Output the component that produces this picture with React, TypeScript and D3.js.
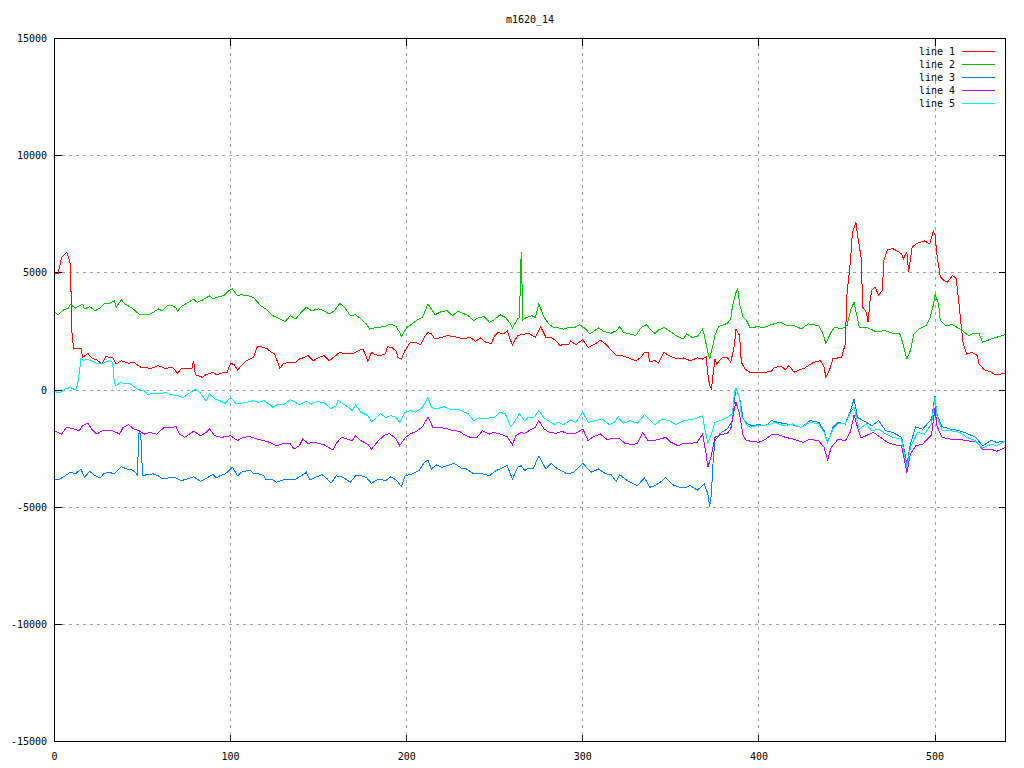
import React from 'react';
import * as d3 from 'd3';

const TITLE = 'm1620_14';
const xTicks = [0, 100, 200, 300, 400, 500];
const yTicks = [-15000, -10000, -5000, 0, 5000, 10000, 15000];
const xDomain: [number, number] = [0, 540];
const yDomain: [number, number] = [-15000, 15000];
const seriesNames = ['line 1', 'line 2', 'line 3', 'line 4', 'line 5'];
const seriesColors = ['#ff0000', '#00c000', '#0080ff', '#c000ff', '#00eeee'];

const line1: [number, number][] = [
  [0, 4990], [1, 4990], [2, 4950], [4, 5660], [7, 5870], [8, 5660], [9, 5380], [10, 2250], [11, 1780], [15, 1790],
  [16, 1390], [19, 1560], [21, 1370], [24, 1280], [27, 1110], [29, 1420], [33, 1390], [35, 1110], [38, 1250], [42, 1140],
  [45, 1180], [49, 970], [52, 970], [54, 900], [59, 1040], [63, 920], [67, 970], [70, 710], [72, 920], [78, 920],
  [79, 1250], [80, 650], [84, 540], [86, 650], [90, 750], [92, 650], [96, 750], [98, 750], [100, 1140], [102, 1080],
  [104, 850], [106, 1040], [109, 1250], [113, 1390], [115, 1820], [116, 1880], [121, 1750], [123, 1610], [125, 1540], [128, 920],
  [130, 1140], [134, 1180], [137, 1180], [139, 1320], [141, 1370], [144, 1470], [147, 1250], [150, 1390], [153, 1470], [156, 1250],
  [158, 1370], [162, 1610], [165, 1540], [169, 1540], [172, 1650], [175, 1750], [176, 1610], [178, 1220], [180, 1610], [182, 1510],
  [185, 1470], [188, 1540], [189, 1850], [192, 1790], [194, 1650], [195, 1390], [197, 1320], [199, 1680], [202, 2030], [205, 2030],
  [208, 1930], [210, 2250], [212, 2460], [214, 2390], [216, 2180], [220, 2250], [223, 2320], [227, 2280], [230, 2220], [232, 2180],
  [236, 2250], [239, 2080], [242, 2220], [245, 2030], [248, 1990], [250, 2320], [252, 2460], [255, 2390], [257, 2530], [259, 2110],
  [260, 1920], [263, 2320], [267, 2390], [270, 2390], [273, 2250], [276, 2700], [279, 2250], [282, 2250], [285, 2080], [287, 1890],
  [289, 1960], [292, 1930], [293, 2110], [296, 1930], [300, 2150], [303, 1820], [307, 1960], [310, 2130], [313, 1960], [316, 1710],
  [319, 1470], [322, 1470], [326, 1370], [330, 1250], [333, 1390], [335, 1610], [337, 1610], [338, 1220], [341, 1250], [343, 1140],
  [346, 1610], [350, 1420], [354, 1320], [357, 1370], [361, 1250], [365, 1370], [368, 1320], [370, 1420], [371, 680], [372, 190],
  [373, 40], [374, 680], [375, 1320], [376, 1110], [379, 1370], [382, 1390], [384, 1180], [386, 1890], [387, 2600], [389, 2320],
  [390, 1180], [392, 900], [395, 750], [399, 750], [403, 750], [407, 800], [409, 970], [413, 1000], [415, 860], [417, 1040],
  [420, 760], [423, 860], [426, 940], [428, 1040], [431, 1180], [435, 1250], [437, 970], [438, 540], [440, 830], [442, 1330],
  [445, 1370], [447, 1400], [449, 1970], [450, 4100], [452, 5530], [453, 6670], [455, 7170], [456, 6600], [458, 5670], [459, 3530],
  [461, 3320], [462, 2890], [463, 3750], [464, 4250], [466, 4390], [468, 4030], [470, 4250], [471, 5530], [473, 5990], [476, 6030],
  [478, 5960], [481, 5810], [482, 5600], [484, 5890], [485, 5030], [487, 6100], [490, 6270], [494, 6360], [497, 6240], [499, 6780],
  [500, 6600], [501, 5810], [503, 4820], [505, 4670], [507, 4600], [510, 4890], [512, 4750], [514, 3390], [515, 2610], [516, 1970],
  [518, 1540], [521, 1610], [524, 1470], [525, 1110], [528, 860], [532, 760], [534, 660], [537, 680], [540, 710],
];

const line2: [number, number][] = [
  [0, 3360], [2, 3210], [5, 3410], [8, 3500], [9, 3640], [12, 3500], [16, 3670], [17, 3460], [20, 3560], [23, 3380],
  [26, 3500], [28, 3670], [31, 3700], [34, 3810], [35, 3530], [38, 3850], [40, 3670], [44, 3500], [48, 3240], [52, 3240],
  [53, 3200], [56, 3310], [59, 3460], [61, 3380], [64, 3600], [67, 3600], [69, 3500], [70, 3360], [72, 3560], [75, 3700],
  [79, 3880], [81, 3740], [84, 3840], [88, 4020], [90, 3880], [93, 3980], [96, 4020], [99, 4240], [101, 4310], [104, 4020],
  [106, 4070], [110, 4020], [113, 3950], [117, 3600], [120, 3460], [124, 3170], [126, 3100], [129, 2990], [131, 2930], [134, 3170],
  [137, 3030], [140, 3310], [143, 3530], [146, 3380], [150, 3460], [153, 3380], [156, 3240], [159, 3380], [162, 3700], [165, 3500],
  [168, 3170], [171, 3210], [174, 3030], [177, 2820], [179, 2600], [183, 2670], [187, 2700], [191, 2820], [194, 2700], [196, 2460],
  [197, 2280], [200, 2670], [203, 2820], [206, 2990], [209, 3100], [212, 3670], [214, 3460], [216, 3210], [220, 3360], [223, 3380],
  [226, 3170], [229, 3360], [232, 3270], [235, 3170], [238, 2960], [241, 3100], [244, 3130], [247, 2890], [249, 2960], [253, 3210],
  [256, 3100], [259, 2820], [260, 2650], [263, 3030], [264, 3100], [265, 5900], [266, 2990], [268, 3100], [271, 3170], [273, 3100],
  [275, 3670], [278, 3100], [281, 2790], [284, 2650], [286, 2650], [289, 2600], [292, 2670], [295, 2650], [298, 2790], [301, 2650],
  [304, 2390], [309, 2650], [312, 2500], [316, 2420], [319, 2530], [321, 2700], [323, 2460], [327, 2390], [330, 2320], [333, 2650],
  [336, 2790], [339, 2530], [341, 2420], [343, 2560], [346, 2670], [349, 2530], [353, 2320], [357, 2180], [359, 2390], [362, 2250],
  [365, 2280], [368, 2600], [369, 2320], [371, 1610], [372, 1320], [374, 1960], [375, 2320], [377, 2700], [380, 2790], [382, 2840],
  [384, 3030], [385, 3600], [387, 4170], [388, 4310], [389, 3670], [391, 3100], [393, 2960], [395, 2650], [399, 2700], [403, 2670],
  [407, 2790], [412, 2890], [416, 2750], [420, 2750], [424, 2610], [428, 2820], [434, 2750], [436, 2470], [438, 2000], [441, 2470],
  [443, 2680], [447, 2610], [450, 2750], [452, 3390], [454, 3750], [455, 3390], [457, 2680], [461, 2680], [463, 2610], [467, 2470],
  [471, 2540], [476, 2420], [480, 2390], [481, 2180], [483, 1610], [484, 1330], [486, 1680], [488, 2390], [491, 2610], [495, 2750],
  [497, 3040], [499, 3610], [500, 4080], [502, 3680], [503, 2960], [506, 2750], [510, 2790], [513, 2650], [516, 2510], [519, 2320],
  [522, 2420], [525, 2420], [527, 2040], [532, 2180], [535, 2250], [540, 2370],
];

const line3: [number, number][] = [
  [0, -3840], [3, -3800], [6, -3660], [9, -3510], [12, -3580], [15, -3370], [17, -3730], [20, -3470], [23, -3660], [26, -3750],
  [28, -3560], [31, -3510], [34, -3580], [36, -3410], [38, -3270], [41, -3370], [44, -3410], [46, -3510], [47, -3660], [48, -1810],
  [49, -1900], [50, -3650], [53, -3610], [56, -3580], [59, -3660], [61, -3800], [65, -3750], [69, -3750], [72, -3870], [75, -3800],
  [79, -3700], [83, -3900], [87, -3730], [90, -3610], [92, -3750], [94, -3660], [97, -3580], [100, -3370], [101, -3300], [104, -3660],
  [106, -3510], [111, -3410], [113, -3560], [116, -3580], [119, -3660], [120, -3840], [124, -3840], [126, -3940], [130, -3840], [134, -3800],
  [137, -3800], [140, -3660], [142, -3580], [143, -3510], [145, -3840], [148, -3730], [152, -3610], [155, -3800], [157, -3980], [160, -3660],
  [164, -3730], [168, -3940], [171, -3660], [174, -3660], [177, -3730], [180, -3980], [184, -3800], [188, -3870], [191, -3700], [194, -3840],
  [197, -4120], [199, -3660], [203, -3580], [207, -3440], [210, -3090], [212, -2990], [214, -3370], [217, -3190], [220, -3300], [223, -3230],
  [227, -3130], [231, -3330], [234, -3370], [238, -3580], [242, -3560], [247, -3660], [250, -3470], [254, -3330], [257, -3230], [260, -3800],
  [263, -3300], [265, -3230], [267, -3440], [269, -3330], [272, -3330], [275, -2820], [279, -3370], [282, -3130], [285, -3330], [287, -3410],
  [291, -3580], [295, -3510], [300, -3130], [303, -3370], [305, -3510], [309, -3370], [313, -3580], [316, -3610], [319, -3900], [321, -3610],
  [324, -3800], [327, -3940], [331, -4080], [335, -3750], [338, -4150], [341, -4080], [344, -3940], [347, -3730], [351, -4040], [355, -4150],
  [358, -4180], [361, -4080], [365, -4270], [368, -4080], [369, -4010], [371, -4440], [372, -4980], [373, -4440], [374, -3020], [375, -2160],
  [378, -1850], [382, -1660], [385, -1310], [386, -460], [387, 40], [389, -310], [391, -1240], [393, -1420], [396, -1520], [400, -1480],
  [404, -1520], [407, -1310], [409, -1340], [414, -1430], [419, -1480], [424, -1600], [429, -1310], [434, -1380], [437, -1740], [439, -2240],
  [442, -1600], [445, -1380], [449, -1450], [452, -880], [454, -390], [456, -1170], [461, -1380], [464, -1530], [468, -1310], [472, -1740],
  [476, -1810], [481, -2020], [482, -2380], [484, -3160], [486, -2310], [489, -1570], [493, -1670], [498, -1240], [500, -240], [501, -1030],
  [504, -1570], [509, -1670], [514, -1740], [518, -1850], [523, -2020], [527, -2380], [532, -2140], [535, -2240], [540, -2170],
];

const line4: [number, number][] = [
  [0, -1740], [4, -1880], [7, -1590], [11, -1660], [14, -1740], [16, -1520], [19, -1420], [21, -1660], [24, -1880], [27, -1740],
  [30, -1710], [33, -1740], [37, -1880], [39, -1590], [42, -1480], [45, -1660], [48, -1740], [51, -1880], [54, -1810], [58, -1880],
  [62, -1620], [66, -1620], [69, -1560], [71, -1880], [74, -2020], [79, -1760], [83, -1950], [86, -1810], [88, -1660], [91, -1950],
  [95, -2020], [100, -1950], [104, -2160], [107, -2020], [111, -1990], [115, -2090], [119, -2160], [122, -2230], [126, -2380], [130, -2280],
  [134, -2300], [136, -2520], [139, -2380], [141, -2090], [144, -2280], [147, -2230], [150, -2280], [153, -2330], [156, -2470], [158, -2560],
  [160, -2280], [163, -2020], [166, -2090], [169, -2160], [171, -1950], [174, -2160], [178, -2330], [180, -2520], [184, -2160], [187, -1950],
  [190, -1850], [193, -2020], [194, -2090], [196, -2380], [199, -2050], [202, -1880], [206, -1740], [209, -1560], [212, -1170], [213, -1280],
  [215, -1620], [219, -1590], [223, -1660], [227, -1740], [230, -1760], [232, -1880], [236, -2020], [240, -2020], [243, -1740], [247, -1880],
  [249, -1810], [253, -1880], [257, -1990], [260, -2330], [262, -1950], [265, -1810], [267, -1850], [270, -1710], [273, -1590], [275, -1310],
  [278, -1660], [281, -1810], [285, -1850], [288, -1760], [292, -1880], [296, -1850], [300, -1660], [303, -2160], [306, -1990], [310, -1880],
  [314, -2130], [317, -2050], [321, -2090], [324, -2280], [328, -2330], [331, -2280], [334, -1810], [337, -2160], [340, -2160], [344, -2090],
  [347, -2020], [350, -2230], [354, -2380], [357, -2280], [361, -2280], [365, -2230], [368, -1880], [370, -2730], [371, -3300], [373, -2800],
  [375, -2020], [378, -1910], [382, -1850], [384, -1660], [386, -810], [387, -530], [389, -1020], [391, -1950], [393, -2160], [396, -2190],
  [400, -2230], [404, -2090], [407, -1910], [410, -1880], [415, -2020], [420, -2100], [425, -2240], [429, -2100], [434, -2170], [437, -2450],
  [439, -2990], [441, -2450], [445, -2100], [449, -2170], [452, -1770], [454, -1060], [456, -1600], [458, -2050], [462, -1910], [465, -1810],
  [469, -2020], [473, -2240], [477, -2340], [481, -2380], [482, -2740], [484, -3520], [486, -2740], [489, -2380], [493, -2310], [498, -1910],
  [500, -740], [501, -1530], [504, -2020], [509, -2100], [514, -2100], [518, -2170], [523, -2200], [527, -2520], [532, -2520], [535, -2620],
  [540, -2450],
];

const line5: [number, number][] = [
  [0, -60], [3, -130], [6, 40], [9, 110], [12, 0], [13, 190], [14, 680], [15, 1320], [17, 1250], [18, 1320],
  [21, 1250], [24, 1140], [27, 1110], [31, 1250], [33, 1180], [34, 280], [35, 190], [38, 330], [40, 260], [43, 260],
  [47, 40], [51, -30], [53, -200], [56, -140], [60, -170], [63, -100], [66, -200], [70, -240], [73, -340], [76, -170],
  [80, 40], [83, -140], [86, -460], [88, -170], [91, -380], [94, -460], [97, -570], [100, -310], [103, -570], [106, -570],
  [109, -530], [113, -460], [116, -530], [119, -460], [122, -600], [124, -740], [127, -600], [130, -630], [134, -410], [137, -530],
  [139, -630], [143, -480], [146, -600], [149, -500], [153, -530], [157, -810], [160, -670], [161, -430], [164, -600], [167, -740],
  [169, -880], [171, -630], [174, -950], [178, -1100], [180, -1350], [182, -1240], [185, -1000], [188, -1170], [191, -1100], [194, -1170],
  [196, -1380], [199, -950], [202, -880], [205, -950], [209, -740], [212, -310], [214, -740], [217, -810], [221, -710], [225, -850],
  [229, -810], [231, -880], [235, -1020], [238, -1310], [241, -1190], [245, -1240], [248, -1170], [250, -1170], [253, -950], [256, -1020],
  [259, -1560], [261, -1380], [264, -1020], [267, -1310], [269, -1170], [272, -1190], [275, -880], [278, -1190], [281, -1340], [284, -1480],
  [286, -1380], [289, -1480], [293, -1280], [296, -1380], [300, -950], [303, -1380], [307, -1310], [311, -1240], [315, -1480], [318, -1380],
  [320, -1140], [323, -1420], [327, -1310], [331, -1420], [335, -1050], [338, -1280], [341, -1480], [345, -1240], [349, -1310], [353, -1480],
  [357, -1310], [360, -1280], [365, -1190], [368, -1100], [369, -1560], [371, -2280], [373, -1880], [375, -1380], [378, -1310], [382, -1170],
  [385, -1000], [386, -170], [387, 90], [389, -310], [390, -1100], [393, -1480], [395, -1590], [399, -1520], [403, -1520], [407, -1450],
  [409, -1380], [414, -1530], [419, -1450], [424, -1600], [429, -1380], [434, -1450], [437, -1810], [439, -2240], [442, -1670], [445, -1430],
  [449, -1450], [452, -960], [454, -740], [457, -1670], [461, -1450], [464, -1740], [468, -1670], [472, -1880], [476, -2020], [481, -2100],
  [482, -2520], [484, -3310], [486, -2450], [490, -1810], [494, -1880], [498, -1450], [500, -290], [501, -1100], [504, -1710], [509, -1740],
  [514, -1810], [518, -2020], [523, -2170], [527, -2480], [532, -2310], [535, -2380], [540, -2170],
];

const seriesData = [line1, line2, line3, line4, line5];

const W = 1024;
const H = 768;
const LEFT = 54.5;
const RIGHT = 1005.5;
const TOP = 38.5;
const BOTTOM = 741.5;
const FONT = '"DejaVu Sans Mono", "Liberation Mono", monospace';

export default function App() {
  const x = d3.scaleLinear().domain(xDomain).range([LEFT, RIGHT]);
  const y = d3.scaleLinear().domain(yDomain).range([BOTTOM, TOP]);
  const line = d3
    .line<[number, number]>()
    .x((d) => x(d[0]))
    .y((d) => y(d[1]));
  const snap = (v: number) => Math.round(v - 0.5) + 0.5;

  return (
    <svg
      width={W}
      height={H}
      style={{ position: 'absolute', left: 0, top: 0, display: 'block' }}
      fontFamily={FONT}
      fontSize={10}
    >
      <rect x={0} y={0} width={W} height={H} fill="#ffffff" />
      {/* grid */}
      <g stroke="#a0a0a0" strokeWidth={1} strokeDasharray="3,4" shapeRendering="crispEdges">
        {xTicks
          .filter((t) => t > xDomain[0] && t < xDomain[1])
          .map((t) => (
            <line key={'gx' + t} x1={snap(x(t))} x2={snap(x(t))} y1={TOP} y2={BOTTOM} />
          ))}
        {yTicks
          .filter((t) => t > yDomain[0] && t < yDomain[1])
          .map((t) => (
            <line key={'gy' + t} x1={LEFT} x2={RIGHT} y1={snap(y(t))} y2={snap(y(t))} />
          ))}
      </g>
      {/* ticks (inward, mirrored) */}
      <g stroke="#000" strokeWidth={1} shapeRendering="crispEdges">
        {xTicks.map((t) => (
          <g key={'tx' + t}>
            <line x1={snap(x(t))} x2={snap(x(t))} y1={BOTTOM} y2={BOTTOM - 7} />
            <line x1={snap(x(t))} x2={snap(x(t))} y1={TOP} y2={TOP + 7} />
          </g>
        ))}
        {yTicks.map((t) => (
          <g key={'ty' + t}>
            <line x1={LEFT} x2={LEFT + 7} y1={snap(y(t))} y2={snap(y(t))} />
            <line x1={RIGHT} x2={RIGHT - 7} y1={snap(y(t))} y2={snap(y(t))} />
          </g>
        ))}
      </g>
      {/* tick labels */}
      <g fill="#000">
        {xTicks.map((t) => (
          <text key={'lx' + t} x={x(t)} y={760} textAnchor="middle">
            {t}
          </text>
        ))}
        {yTicks.map((t) => (
          <text key={'ly' + t} x={47} y={y(t) + 3.5} textAnchor="end">
            {t}
          </text>
        ))}
      </g>
      {/* title */}
      <text x={(LEFT + RIGHT) / 2} y={23} textAnchor="middle" fill="#000">
        {TITLE}
      </text>
      {/* series */}
      <g fill="none" strokeWidth={1} shapeRendering="crispEdges">
        {seriesData.map((s, i) => (
          <path key={'s' + i} d={line(s) || ''} stroke={seriesColors[i]} />
        ))}
      </g>
      {/* legend */}
      <g>
        {seriesNames.map((n, i) => {
          const ly = 51.5 + i * 13;
          return (
            <g key={'lg' + i}>
              <text x={955} y={ly + 3.5} textAnchor="end" fill="#000">
                {n}
              </text>
              <line x1={962} x2={995} y1={ly} y2={ly} stroke={seriesColors[i]} strokeWidth={1} shapeRendering="crispEdges" />
            </g>
          );
        })}
      </g>
      {/* border */}
      <rect
        x={LEFT}
        y={TOP}
        width={RIGHT - LEFT}
        height={BOTTOM - TOP}
        fill="none"
        stroke="#000"
        strokeWidth={1}
        shapeRendering="crispEdges"
      />
    </svg>
  );
}
